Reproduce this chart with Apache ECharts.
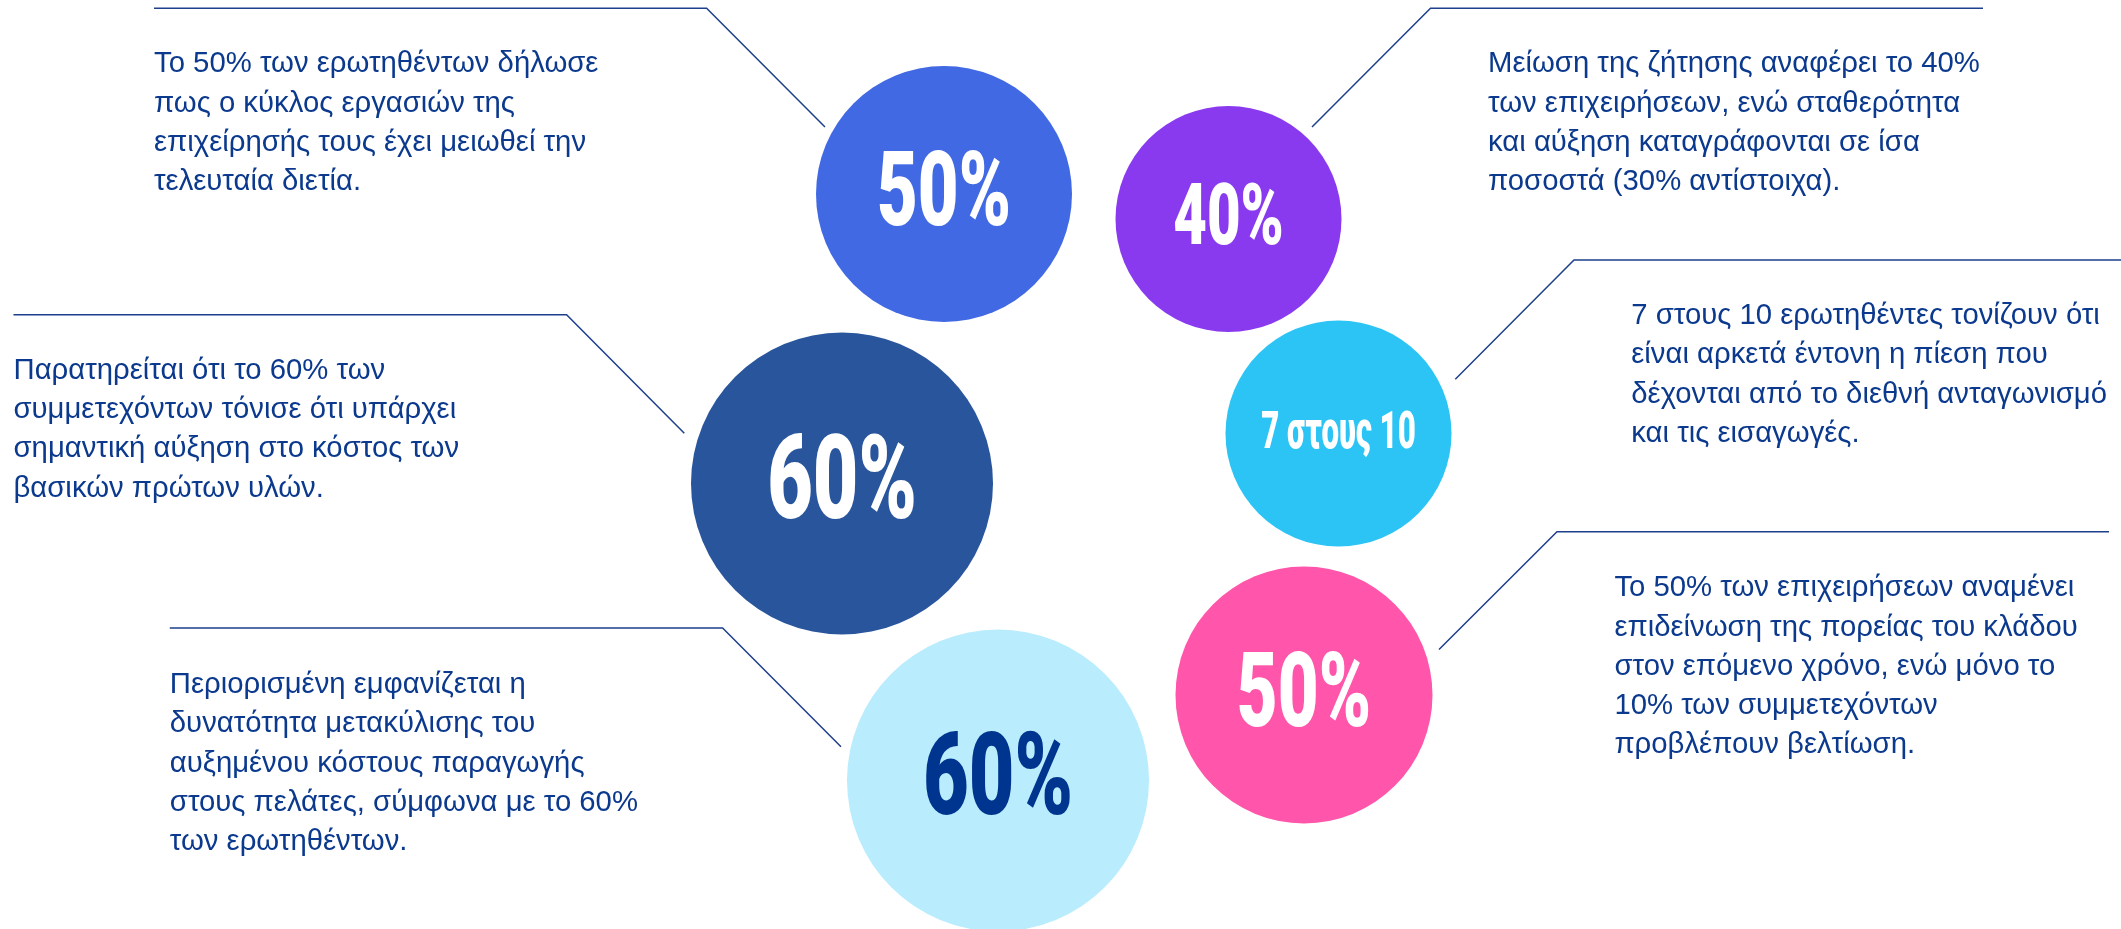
<!DOCTYPE html>
<html><head><meta charset="utf-8">
<script src="https://cdn.jsdelivr.net/npm/echarts@6/dist/echarts.min.js"></script>
<style>html,body{margin:0;padding:0;background:#fff}#c{width:2121px;height:929px}</style>
</head><body><div id="c"></div>
<script>
// ---------------- DATA ----------------
const values = [50, 40, 60, 70, 50, 60];
const bubbleLabels = ['50%', '40%', '60%', '7 στους 10', '50%', '60%'];
const descriptions = [
  ['Το 50% των ερωτηθέντων δήλωσε', 'πως ο κύκλος εργασιών της', 'επιχείρησής τους έχει μειωθεί την', 'τελευταία διετία.'],
  ['Μείωση της ζήτησης αναφέρει το 40%', 'των επιχειρήσεων, ενώ σταθερότητα', 'και αύξηση καταγράφονται σε ίσα', 'ποσοστά (30% αντίστοιχα).'],
  ['Παρατηρείται ότι το 60% των', 'συμμετεχόντων τόνισε ότι υπάρχει', 'σημαντική αύξηση στο κόστος των', 'βασικών πρώτων υλών.'],
  ['7 στους 10 ερωτηθέντες τονίζουν ότι', 'είναι αρκετά έντονη η πίεση που', 'δέχονται από το διεθνή ανταγωνισμό', 'και τις εισαγωγές.'],
  ['Το 50% των επιχειρήσεων αναμένει', 'επιδείνωση της πορείας του κλάδου', 'στον επόμενο χρόνο, ενώ μόνο το', '10% των συμμετεχόντων', 'προβλέπουν βελτίωση.'],
  ['Περιορισμένη εμφανίζεται η', 'δυνατότητα μετακύλισης του', 'αυξημένου κόστους παραγωγής', 'στους πελάτες, σύμφωνα με το 60%', 'των ερωτηθέντων.']
];

// ---------------- LAYOUT (positions / sizes, in axis units = px) ----------------
// cx, cy, r, label center y, label cap height, label width
const bubbleLayout = [
  [944, 194, 128, 188.7, 74, 134],
  [1228.5, 219, 113, 215, 60, 110.6],
  [842, 483.5, 151, 478, 82.6, 149.7],
  [1338.5, 433.5, 113, 430, 37.3, 154.6],
  [1304, 695, 128.5, 689.5, 74.4, 134.3],
  [998, 780.5, 151, 774, 82.3, 150]
];
// rule start x, elbow x, rule y, end x, end y
const connectorLayout = [
  [154, 706.6, 8.3, 825, 127],
  [1983, 1430.5, 8.3, 1312, 127],
  [13.5, 566.6, 314.7, 684.3, 433.3],
  [2121, 1574, 260, 1455.3, 379.3],
  [2109, 1557, 531.7, 1439, 649.5],
  [169.8, 722.6, 628, 841, 746.7]
];
// text left x, first baseline y
const textLayout = [
  [154, 74.3], [1488, 74.3], [13.5, 380.7], [1631.3, 326], [1614.4, 598.3], [169.8, 695]
];

// ---------------- STYLES ----------------
const bubbleColors = ['#4169E3', '#8A3AEE', '#29559D', '#2BC4F5', '#FF55AA', '#B9ECFD'];
const labelColors = ['#ffffff', '#ffffff', '#ffffff', '#ffffff', '#ffffff', '#00358F'];
const textColor = '#0B398D';
const lineColor = '#1D3F8C';
const descFontSize = 29.3;
const descLineHeight = 39.3;

const mctx = document.createElement('canvas').getContext('2d');
function measure(text, font) { mctx.font = font; return mctx.measureText(text).width; }
const BIG_FAMILY = 'Roboto, "Liberation Sans", sans-serif';
const CAP = 0.711;
const MID_SHIFT = 0.095;

const chart = echarts.init(document.getElementById('c'), null, { renderer: 'canvas' });
chart.setOption({
  animation: false,
  backgroundColor: '#ffffff',
  grid: { left: 0, right: 0, top: 0, bottom: 0 },
  xAxis: { type: 'value', min: 0, max: 2121, show: false },
  yAxis: { type: 'value', min: 0, max: 929, inverse: true, show: false },
  series: [
    {
      type: 'lines',
      coordinateSystem: 'cartesian2d',
      polyline: true,
      silent: true,
      z: 1,
      lineStyle: { color: lineColor, width: 1.5, opacity: 1 },
      data: connectorLayout.map(c => ({ coords: [[c[0], c[2]], [c[1], c[2]], [c[3], c[4]]] }))
    },
    {
      type: 'custom',
      coordinateSystem: 'cartesian2d',
      silent: true,
      clip: false,
      z: 2,
      data: values.map((v, i) => [bubbleLayout[i][0], bubbleLayout[i][1], v, i]),
      renderItem: function (params, api) {
        const i = api.value(3);
        const L = bubbleLayout[i];
        const c = api.coord([api.value(0), api.value(1)]);
        const r = api.size([L[2], 0])[0];
        const fs = L[4] / CAP;
        const ty = api.coord([0, L[3]])[1] + MID_SHIFT * fs;
        const font = '900 ' + fs + 'px ' + BIG_FAMILY;
        const w = measure(bubbleLabels[i], font);
        const sx = L[5] / w;
        return {
          type: 'group',
          children: [
            { type: 'circle', shape: { cx: c[0], cy: c[1], r: r }, style: { fill: bubbleColors[i] } },
            {
              type: 'text', x: c[0], y: ty, scaleX: sx, scaleY: 1,
              style: { text: bubbleLabels[i], font: font, fill: labelColors[i], align: 'center', verticalAlign: 'middle' }
            }
          ]
        };
      }
    },
    {
      type: 'custom',
      coordinateSystem: 'cartesian2d',
      silent: true,
      clip: false,
      z: 3,
      data: descriptions.map((d, i) => [textLayout[i][0], textLayout[i][1], i]),
      renderItem: function (params, api) {
        const i = api.value(2);
        const p = api.coord([api.value(0), api.value(1)]);
        return {
          type: 'text',
          x: p[0],
          y: p[1] - descLineHeight / 2 - 0.3465 * descFontSize,
          style: {
            text: descriptions[i].join('\n'),
            font: descFontSize + 'px "Liberation Sans", Arial, sans-serif',
            fill: textColor,
            lineHeight: descLineHeight,
            align: 'left',
            verticalAlign: 'top'
          }
        };
      }
    }
  ]
});
</script>
</body></html>
